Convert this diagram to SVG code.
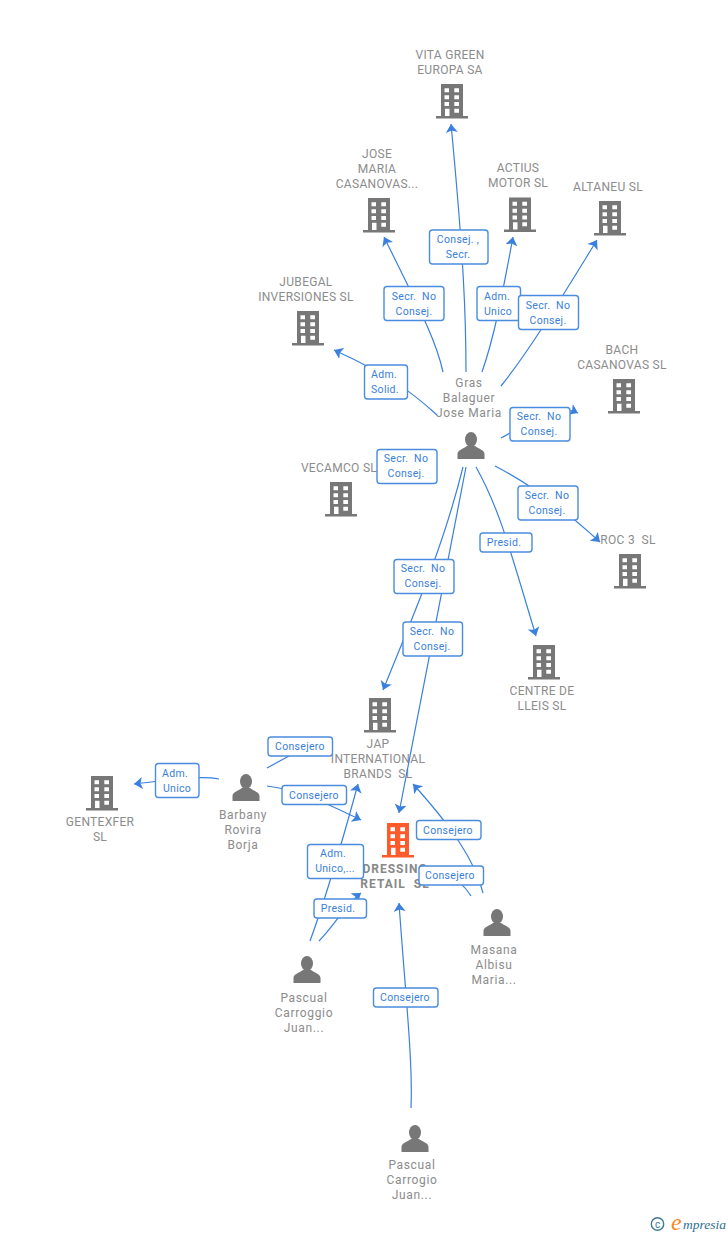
<svg xmlns="http://www.w3.org/2000/svg" width="728" height="1235" viewBox="0 0 728 1235">
<style>
text{font-family:Roboto,"Liberation Sans",sans-serif}
.n{font-size:12px;letter-spacing:.3px;fill:#8c8c8c;text-anchor:middle}
.p{font-size:12px;letter-spacing:.65px;fill:#8c8c8c;text-anchor:middle}
.d{font-size:12px;font-weight:700;fill:#888;text-anchor:middle;letter-spacing:1px}
.l{font-size:10.500px;letter-spacing:.3px;fill:#3a80dc;text-anchor:middle;white-space:pre}
.e{fill:none;stroke:#3a80dc;stroke-width:1.200;marker-end:url(#a)}
.h{fill:none;stroke:#3a80dc;stroke-width:1.200}
.b{fill:#fff;stroke:#4a8ce0;stroke-width:1.400;rx:3px;ry:3px}
</style>
<defs>
<marker id="a" markerUnits="userSpaceOnUse" markerWidth="10" markerHeight="13" refX="8.500" refY="6" orient="auto"><path d="M0,0L8.500,6L0,12L2,6Z" fill="#3a80dc"/></marker>
<g id="bld"><path fill-rule="evenodd" d="M-11,0H11V32H16V34.500H-16V32H-11ZM-7.500,4.300V8.300H-3V4.300ZM2.300,4.300V8.300H7V4.300ZM-7.500,11.300V15.300H-3V11.300ZM2.300,11.300V15.300H7V11.300ZM-7.500,18V22H-3V18ZM2.300,18V22H7V18ZM-7,24.700V32H-2.500V24.700ZM2.300,24.700V28.700H7V24.700Z"/></g>
<g id="per"><ellipse cx="0" cy="7.500" rx="6" ry="7.500"/><path d="M-13.500,27V22C-13.500,18 -8,17 -4,14H4C8,17 13.500,18 13.500,22V27Z"/></g>
</defs>
<g id="node-vita"><use href="#bld" x="452" y="84" fill="#777"/><text class="n" x="450" y="59">VITA GREEN</text><text class="n" x="450" y="74">EUROPA SA</text></g>
<g id="node-jose"><use href="#bld" x="379" y="198" fill="#777"/><text class="n" x="377" y="158">JOSE</text><text class="n" x="377" y="173">MARIA</text><text class="n" x="377" y="188">CASANOVAS...</text></g>
<g id="node-actius"><use href="#bld" x="520" y="197.500" fill="#777"/><text class="n" x="518" y="172">ACTIUS</text><text class="n" x="518" y="187">MOTOR SL</text></g>
<g id="node-altaneu"><use href="#bld" x="610" y="201" fill="#777"/><text class="n" x="608" y="191">ALTANEU SL</text></g>
<g id="node-jubegal"><use href="#bld" x="308" y="311" fill="#777"/><text class="n" x="306" y="286">JUBEGAL</text><text class="n" x="306" y="301">INVERSIONES SL</text></g>
<g id="node-bach"><use href="#bld" x="624" y="379" fill="#777"/><text class="n" x="622" y="354">BACH</text><text class="n" x="622" y="369">CASANOVAS SL</text></g>
<g id="node-vecamco"><use href="#bld" x="341" y="482" fill="#777"/><text class="n" x="339" y="472">VECAMCO SL</text></g>
<g id="node-roc"><use href="#bld" x="630" y="554" fill="#777"/><text class="n" x="628" y="544" style="white-space:pre">ROC 3  SL</text></g>
<g id="node-centre"><use href="#bld" x="544" y="645" fill="#777"/><text class="n" x="542" y="695">CENTRE DE</text><text class="n" x="542" y="710">LLEIS SL</text></g>
<g id="node-jap"><use href="#bld" x="380" y="698" fill="#777"/><text class="n" x="378" y="748">JAP</text><text class="n" x="378" y="763">INTERNATIONAL</text><text class="n" x="378" y="778" style="white-space:pre">BRANDS  SL</text></g>
<g id="node-gentexfer"><use href="#bld" x="102" y="776" fill="#777"/><text class="n" x="100" y="826">GENTEXFER</text><text class="n" x="100" y="841">SL</text></g>
<g id="node-dressing"><use href="#bld" x="398" y="823" fill="#ff5a2b"/><text class="d" x="395" y="873">DRESSING</text><text class="d" x="395" y="888" style="white-space:pre">RETAIL  SL</text></g>
<g id="node-gras"><use href="#per" x="471" y="432" fill="#777"/><text class="p" x="469" y="387">Gras</text><text class="p" x="469" y="402">Balaguer</text><text class="p" x="469" y="417">Jose Maria</text></g>
<g id="node-barbany"><use href="#per" x="246" y="774" fill="#777"/><text class="p" x="243" y="819">Barbany</text><text class="p" x="243" y="834">Rovira</text><text class="p" x="243" y="849">Borja</text></g>
<g id="node-masana"><use href="#per" x="497" y="909" fill="#777"/><text class="p" x="494" y="954">Masana</text><text class="p" x="494" y="969">Albisu</text><text class="p" x="494" y="984">Maria...</text></g>
<g id="node-pascual1"><use href="#per" x="307" y="956" fill="#777"/><text class="p" x="304" y="1002">Pascual</text><text class="p" x="304" y="1017">Carroggio</text><text class="p" x="304" y="1032">Juan...</text></g>
<g id="node-pascual2"><use href="#per" x="415" y="1125" fill="#777"/><text class="p" x="412" y="1169">Pascual</text><text class="p" x="412" y="1184">Carrogio</text><text class="p" x="412" y="1199">Juan...</text></g>
<g id="connectors">
<path class="e" d="M466,372C466,320 464,260 451,124"/>
<path class="e" d="M443,372C436,340 420,310 384,237"/>
<path class="e" d="M482,372C495,335 503,290 513,237"/>
<path class="e" d="M501,386C530,350 560,300 597,240"/>
<path class="e" d="M437,415C420,400 400,380 334,350"/>
<path class="e" d="M501,438C525,426 550,400 578,413"/>
<path class="h" d="M437,466C420,472 395,476 378,476"/>
<path class="e" d="M495,466C530,484 565,510 600,542"/>
<path class="e" d="M476,467C500,510 510,550 536,636"/>
<path class="e" d="M463,467C445,540 420,600 383,690"/>
<path class="e" d="M466,467L399,813"/>
<path class="e" d="M219,779C200,775 170,780 134,784"/>
<path class="h" d="M267,768L300,750"/>
<path class="e" d="M267,786C300,790 330,805 361,820"/>
<path class="e" d="M310,941C325,900 340,850 358,784"/>
<path class="e" d="M319,941C335,925 345,905 361,893"/>
<path class="e" d="M483,893C475,860 450,825 413,784"/>
<path class="h" d="M471,896C465,886 455,878 445,875"/>
<path class="e" d="M411,1108C413,1060 405,990 399,903"/>
<g id="edge-labels">
<rect class="b" x="429.500" y="230" width="58.500" height="34"/><text class="l"><tspan x="458" y="243">Consej. ,</tspan><tspan x="458" y="258">Secr.</tspan></text>
<rect class="b" x="384" y="286.500" width="60" height="34"/><text class="l"><tspan x="414" y="300">Secr.  No</tspan><tspan x="414" y="315">Consej.</tspan></text>
<rect class="b" x="477" y="286.500" width="43.500" height="34"/><text class="l"><tspan x="497" y="300">Adm.</tspan><tspan x="498" y="315">Unico</tspan></text>
<rect class="b" x="518.500" y="295.500" width="60" height="34"/><text class="l"><tspan x="548" y="309">Secr.  No</tspan><tspan x="548" y="324">Consej.</tspan></text>
<rect class="b" x="364.500" y="365" width="43" height="34"/><text class="l"><tspan x="384" y="378">Adm.</tspan><tspan x="385" y="393">Solid.</tspan></text>
<rect class="b" x="510" y="407.500" width="60" height="33.500"/><text class="l"><tspan x="539" y="420">Secr.  No</tspan><tspan x="539" y="435">Consej.</tspan></text>
<rect class="b" x="377" y="449.500" width="60" height="34"/><text class="l"><tspan x="406" y="462">Secr.  No</tspan><tspan x="406" y="477">Consej.</tspan></text>
<rect class="b" x="518" y="486" width="60" height="34"/><text class="l"><tspan x="547" y="499">Secr.  No</tspan><tspan x="547" y="514">Consej.</tspan></text>
<rect class="b" x="480" y="533" width="52" height="19"/><text class="l"><tspan x="504" y="546">Presid.</tspan></text>
<rect class="b" x="394" y="559.500" width="60" height="34"/><text class="l"><tspan x="423" y="572">Secr.  No</tspan><tspan x="423" y="587">Consej.</tspan></text>
<rect class="b" x="403" y="622" width="59.500" height="34"/><text class="l"><tspan x="432" y="635">Secr.  No</tspan><tspan x="432" y="650">Consej.</tspan></text>
<rect class="b" x="268" y="737" width="64.500" height="19"/><text class="l"><tspan x="300" y="750">Consejero</tspan></text>
<rect class="b" x="282" y="785.500" width="64.500" height="19"/><text class="l"><tspan x="314" y="799">Consejero</tspan></text>
<rect class="b" x="307.500" y="844.500" width="56" height="34"/><text class="l"><tspan x="333" y="857">Adm.</tspan><tspan x="335" y="872">Unico,...</tspan></text>
<rect class="b" x="314" y="899" width="52.500" height="19"/><text class="l"><tspan x="338" y="912">Presid.</tspan></text>
<rect class="b" x="416.500" y="820.500" width="64.500" height="19"/><text class="l"><tspan x="448" y="834">Consejero</tspan></text>
<rect class="b" x="419" y="866" width="64.500" height="19"/><text class="l"><tspan x="450" y="879">Consejero</tspan></text>
<rect class="b" x="373.500" y="988" width="64.500" height="19"/><text class="l"><tspan x="405" y="1001">Consejero</tspan></text>
<rect class="b" x="155.500" y="763.500" width="43.500" height="34"/><text class="l"><tspan x="175" y="777">Adm.</tspan><tspan x="177" y="792">Unico</tspan></text>
</g>
</g>
<g id="logo"><circle cx="657.500" cy="1224" r="6.200" fill="none" stroke="#3d7a96" stroke-width="1.400"/><text x="657.500" y="1227.500" font-size="10" fill="#3d7a96" text-anchor="middle">c</text><text x="671" y="1230" font-size="24" font-style="italic" fill="#f58a1f" style="font-family:'Liberation Serif',serif">e</text><text x="683" y="1229" font-size="13.500" font-style="italic" fill="#2f6f8f" style="font-family:'Liberation Serif',serif">mpresia</text></g>
</svg>
